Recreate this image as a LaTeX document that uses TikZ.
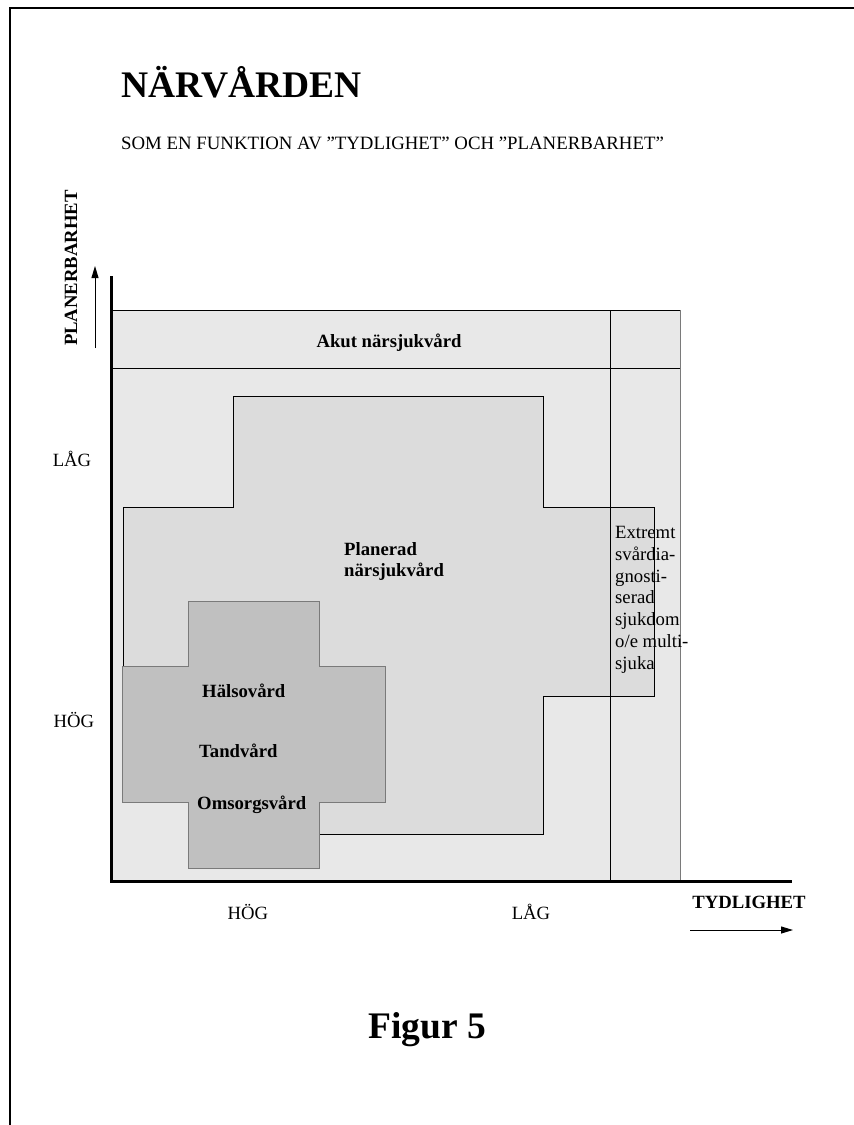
\documentclass[tikz,border=0pt]{standalone}
\usepackage{fontspec}
\setmainfont{Liberation Serif}
\usetikzlibrary{arrows.meta}
\definecolor{akutgray}{HTML}{E8E8E8}
\definecolor{plangray}{HTML}{DCDCDC}
\definecolor{vardgray}{HTML}{C0C0C0}
\definecolor{edgegray}{HTML}{7A7A7A}
\begin{document}
\begin{tikzpicture}[x=1pt, y=-1pt,
  lbl/.style={inner sep=0pt, font=\fontsize{18.7}{21.8}\selectfont},
  blbl/.style={inner sep=0pt, font=\fontsize{18.7}{21.5}\selectfont\bfseries},
  big/.style={inner sep=0pt, font=\fontsize{37.5}{40}\selectfont\bfseries},
  axis/.style={line width=3pt, line join=miter},
  arrow/.style={-{Triangle[length=12pt, width=7pt]}, line width=1pt}
]
\useasboundingbox (0,0) rectangle (854,1125);
\draw[line width=1.5pt] (10,1125) -- (10,8) -- (854,8);

\node[big, anchor=base west] (title) at (121,97) {NÄRVÅRDEN};
\node[inner sep=0pt, anchor=base west, font=\fontsize{18.8}{21}\selectfont] (subtitle) at (121,149) {SOM EN FUNKTION AV ”TYDLIGHET” OCH ”PLANERBARHET”};

\fill[akutgray] (111,310) rectangle (680,881);
\draw[line width=0.8pt] (111,310) -- (680,310);
\draw[line width=0.8pt] (111,368) -- (680,368);
\draw[edgegray, line width=0.8pt] (680,310) -- (680,881);
\node[blbl] (akut) at (389,343) {Akut närsjukvård};

\draw[fill=plangray, line width=0.8pt] (233,396) -- (543,396) -- (543,507) -- (654,507) -- (654,696) -- (543,696)
  -- (543,834) -- (233,834) -- (233,696) -- (123,696) -- (123,507) -- (233,507) -- cycle;
\draw[line width=0.8pt] (610,310) -- (610,881);
\node[blbl, anchor=north west, align=left] (planerad) at (344,542) {Planerad\\närsjukvård};
\node[lbl, anchor=north west, align=left] (extremt) at (615,526) {Extremt\\svårdia-\\gnosti-\\serad\\sjukdom\\o/e multi-\\sjuka};

\draw[fill=vardgray, draw=edgegray, line width=0.8pt] (188,601) -- (319,601) -- (319,666) -- (385,666) -- (385,802)
  -- (319,802) -- (319,868) -- (188,868) -- (188,802) -- (122,802) -- (122,666) -- (188,666) -- cycle;
\node[blbl, anchor=base west] (halso) at (202,697) {Hälsovård};
\node[blbl, anchor=base west] (tand) at (199,757) {Tandvård};
\node[blbl, anchor=base west] (omsorg) at (197,809) {Omsorgsvård};

\draw[axis] (111,276) -- (111,881) -- (792,881);

\node[blbl, rotate=90] (planerbarhet) at (71,268) {PLANERBARHET};
\coordinate (ytail) at (95,348);
\coordinate (yhead) at (95,266);
\draw[arrow] (ytail) -- (yhead);
\node[lbl] (ylag) at (72,459) {LÅG};
\node[lbl] (yhog) at (74,720) {HÖG};

\node[lbl] (xhog) at (248,912) {HÖG};
\node[lbl] (xlag) at (531,912) {LÅG};
\node[blbl] (tydlighet) at (749,902) {TYDLIGHET};
\coordinate (xtail) at (690,930);
\coordinate (xhead) at (793,930);
\draw[arrow] (xtail) -- (xhead);

\node[big] (figur) at (427,1030) {Figur 5};
\end{tikzpicture}
\end{document}
